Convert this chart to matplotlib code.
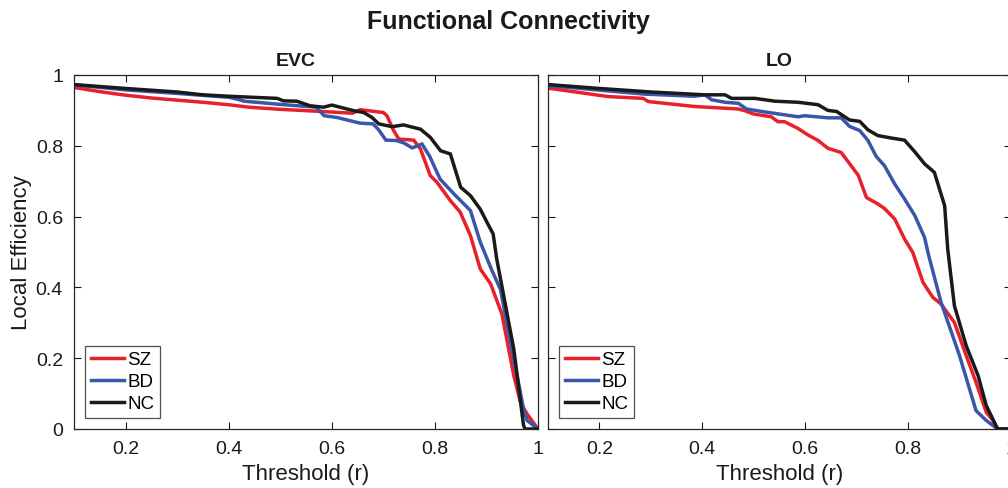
import numpy as np
import matplotlib.pyplot as plt

plt.rcParams['font.family'] = ['Liberation Sans', 'DejaVu Sans']

# threshold breakpoints and local efficiency values
evc_sz_x = [0.10, 0.15, 0.20, 0.25, 0.30, 0.35, 0.40, 0.44, 0.50, 0.58, 0.64, 0.655, 0.70, 0.707,
            0.72, 0.73, 0.759, 0.772, 0.791, 0.804, 0.83, 0.849, 0.869, 0.888, 0.908, 0.93,
            0.953, 0.966, 0.979, 1.0]
evc_sz_y = [0.965, 0.953, 0.943, 0.935, 0.929, 0.923, 0.916, 0.909, 0.903, 0.897, 0.892, 0.902,
            0.894, 0.885, 0.843, 0.819, 0.816, 0.791, 0.716, 0.697, 0.645, 0.613, 0.546, 0.452,
            0.41, 0.325, 0.151, 0.075, 0.042, 0.0]

evc_bd_x = [0.10, 0.20, 0.30, 0.40, 0.416, 0.43, 0.50, 0.57, 0.585, 0.61, 0.655, 0.68, 0.69, 0.705,
            0.725, 0.74, 0.756, 0.775, 0.79, 0.81, 0.837, 0.869, 0.888, 0.91, 0.927, 0.972,
            0.979, 1.0]
evc_bd_y = [0.972, 0.958, 0.948, 0.937, 0.932, 0.926, 0.917, 0.909, 0.885, 0.88, 0.864, 0.862,
            0.847, 0.816, 0.815, 0.808, 0.794, 0.805, 0.77, 0.706, 0.664, 0.617, 0.528, 0.45,
            0.395, 0.056, 0.024, 0.0]

evc_nc_x = [0.10, 0.20, 0.30, 0.35, 0.40, 0.494, 0.506, 0.532, 0.558, 0.584, 0.60, 0.643, 0.662,
            0.678, 0.691, 0.717, 0.739, 0.772, 0.791, 0.811, 0.83, 0.85, 0.869, 0.888, 0.901,
            0.913, 0.92, 0.953, 0.972, 0.975, 1.0]
evc_nc_y = [0.973, 0.962, 0.952, 0.944, 0.94, 0.934, 0.927, 0.926, 0.913, 0.909, 0.915, 0.899,
            0.894, 0.88, 0.862, 0.854, 0.859, 0.847, 0.824, 0.786, 0.777, 0.683, 0.659, 0.621,
            0.584, 0.551, 0.48, 0.226, 0.01, 0.0, 0.0]

lo_sz_x = [0.10, 0.217, 0.285, 0.295, 0.385, 0.47, 0.483, 0.499, 0.534, 0.547, 0.56, 0.586, 0.605,
           0.625, 0.644, 0.67, 0.703, 0.719, 0.741, 0.754, 0.774, 0.793, 0.809, 0.829, 0.848,
           0.864, 0.89, 0.913, 0.932, 0.952, 0.965, 0.974, 1.0]
lo_sz_y = [0.963, 0.939, 0.934, 0.925, 0.911, 0.904, 0.899, 0.89, 0.882, 0.868, 0.868, 0.849,
           0.831, 0.815, 0.793, 0.781, 0.717, 0.654, 0.636, 0.623, 0.593, 0.537, 0.499, 0.414,
           0.372, 0.353, 0.301, 0.207, 0.132, 0.047, 0.024, 0.0, 0.0]

lo_bd_x = [0.10, 0.288, 0.385, 0.405, 0.418, 0.444, 0.47, 0.486, 0.515, 0.586, 0.599, 0.644, 0.67,
           0.686, 0.706, 0.722, 0.738, 0.754, 0.774, 0.793, 0.813, 0.832, 0.84, 0.864, 0.90,
           0.932, 0.952, 0.974, 1.0]
lo_bd_y = [0.97, 0.946, 0.94, 0.944, 0.93, 0.923, 0.92, 0.904, 0.897, 0.882, 0.885, 0.879, 0.879,
           0.855, 0.843, 0.815, 0.77, 0.744, 0.692, 0.65, 0.603, 0.541, 0.49, 0.358, 0.207,
           0.052, 0.024, 0.0, 0.0]

lo_nc_x = [0.10, 0.20, 0.30, 0.405, 0.444, 0.457, 0.502, 0.541, 0.586, 0.625, 0.644, 0.661, 0.686,
           0.706, 0.722, 0.741, 0.767, 0.793, 0.813, 0.832, 0.851, 0.871, 0.877, 0.89, 0.913,
           0.936, 0.952, 0.974, 1.0]
lo_nc_y = [0.973, 0.962, 0.952, 0.944, 0.944, 0.934, 0.934, 0.926, 0.923, 0.916, 0.9, 0.897,
           0.873, 0.869, 0.845, 0.829, 0.822, 0.816, 0.783, 0.749, 0.725, 0.631, 0.508, 0.348,
           0.235, 0.151, 0.066, 0.0, 0.0]

groups = ['SZ', 'BD', 'NC']
colors = ['#e8202a', '#3a56a8', '#1a1a1a']
panels = ['EVC', 'LO']
x_ticks = [0.2, 0.4, 0.6, 0.8, 1.0]
x_tick_labels = ['0.2', '0.4', '0.6', '0.8', '1']
y_ticks = [0, 0.2, 0.4, 0.6, 0.8, 1.0]
y_tick_labels = ['0', '0.2', '0.4', '0.6', '0.8', '1']

data = {
    'EVC': [(evc_sz_x, evc_sz_y), (evc_bd_x, evc_bd_y), (evc_nc_x, evc_nc_y)],
    'LO': [(lo_sz_x, lo_sz_y), (lo_bd_x, lo_bd_y), (lo_nc_x, lo_nc_y)],
}

W, H = 1008, 489
fig = plt.figure(figsize=(W / 100, H / 100), dpi=100)
ax1 = fig.add_axes([74 / W, 59 / H, 464 / W, 354 / H])
ax2 = fig.add_axes([548 / W, 59 / H, 463 / W, 354 / H])

txt = '#1a1a1a'
for ax, name in zip([ax1, ax2], panels):
    for (xs, ys), g, c in zip(data[name], groups, colors):
        ax.plot(xs, ys, color=c, lw=2.5, label=g, solid_joinstyle='miter')
    ax.set_xlim(0.1, 1.0)
    ax.set_ylim(0, 1)
    ax.set_xticks(x_ticks)
    ax.set_xticklabels(x_tick_labels)
    ax.set_yticks(y_ticks)
    ax.tick_params(direction='in', length=5, width=0.8, top=True, right=True,
                   labelsize=14, colors=txt, pad=8)
    for s in ax.spines.values():
        s.set_color('#262626')
        s.set_linewidth(0.9)
    ax.set_xlabel('Threshold (r)', fontsize=16, color=txt, labelpad=4)
    leg = ax.legend(loc='lower left', fontsize=13.5, frameon=True, fancybox=False,
                    handlelength=1.75, handletextpad=0.2, borderpad=0.3, labelspacing=0.25,
                    borderaxespad=0.6, edgecolor='#262626')
    leg.get_frame().set_linewidth(0.9)

ax1.set_yticklabels(y_tick_labels)
ax2.set_yticklabels([])
ax1.set_ylabel('Local Efficiency', fontsize=16, color=txt)
ax1.yaxis.set_label_coords(-0.09, 0.5)
ax1.set_title('EVC', fontsize=14, fontweight='bold', x=0.477, pad=7, color=txt)
ax2.set_title('LO', fontsize=14, fontweight='bold', pad=7, color=txt)
fig.text(0.504, 0.955, 'Functional Connectivity', fontsize=18, fontweight='bold',
         ha='center', va='center', color=txt)

fig.savefig('out.png', dpi=100)
